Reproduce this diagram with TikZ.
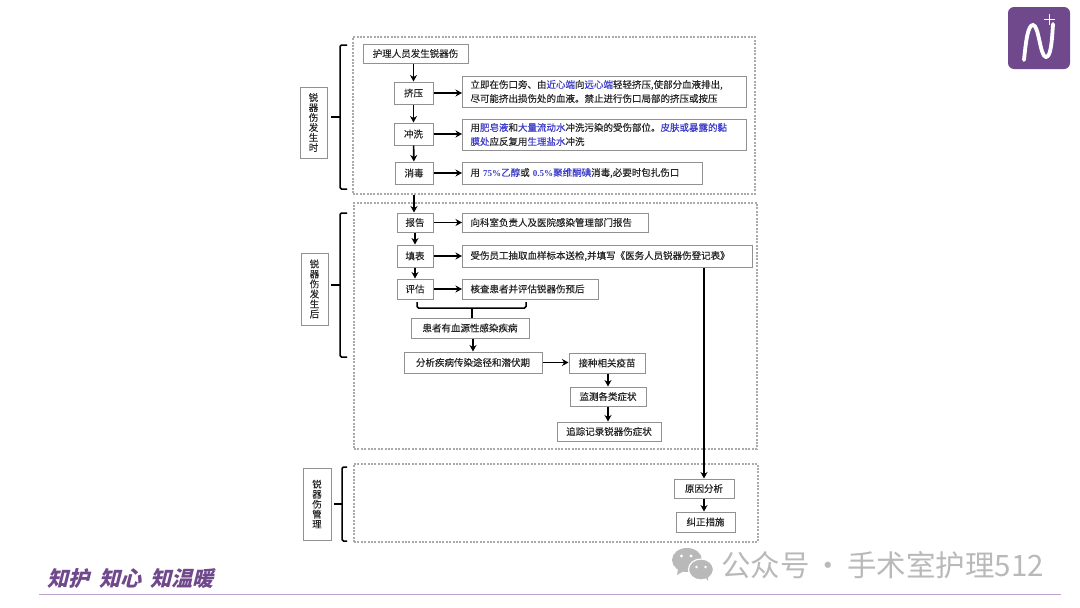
\documentclass[tikz,border=0pt]{standalone}
\usepackage{fontspec}
\setmainfont[FakeBold=0.3]{Noto Sans CJK SC}
\newfontfamily\footfont[BoldFeatures={FakeSlant=0.25}]{Noto Sans CJK SC}
\newfontfamily\markfont{Noto Sans CJK SC}
\newfontfamily\numfont[Scale=0.95]{Liberation Serif}
\usetikzlibrary{arrows,arrows.meta}
\usetikzlibrary{calc}
\definecolor{boxgray}{RGB}{145,145,145}
\definecolor{framegray}{RGB}{170,170,170}
\definecolor{keyblue}{RGB}{60,60,200}
\definecolor{logopurple}{RGB}{112,72,140}
\definecolor{lineviolet}{RGB}{190,165,205}
\definecolor{markgray}{RGB}{185,185,185}
\tikzset{
    stepbox/.style={draw=boxgray, line width=1pt, inner sep=0pt, align=center, text=black!85, font=\fontsize{9.5}{10}\selectfont},
    notebox/.style={draw=boxgray, line width=1pt, inner xsep=8pt, inner ysep=0pt, align=left, anchor=west, text=black!85, font=\fontsize{9.5}{14}\selectfont},
    framebox/.style={draw=framegray, line width=2.6pt, dash pattern=on 2pt off 1.4pt},
    flow/.style={black, line width=1.6pt, -{Stealth[length=6.5pt,width=7pt]}},
    bracket/.style={black, line width=1.5pt, rounded corners=1.5pt},
}
\newcommand{\key}[1]{\textcolor{keyblue}{#1}}

\begin{document}
\begin{tikzpicture}[x=1pt,y=-1pt]

    \useasboundingbox (0,0) rectangle (1080,608);

    % dotted frames
    \node[framebox, minimum width=402, minimum height=157] (frameA) at (554,115.5) {};
    \node[framebox, minimum width=403, minimum height=246] (frameB) at (555.5,326) {};
    \node[framebox, minimum width=404, minimum height=78] (frameC) at (556,503) {};

    % side labels
    \node[stepbox, minimum width=27, minimum height=71] (labelA) at (313.5,122.5) {锐\\器\\伤\\发\\生\\时};
    \node[stepbox, minimum width=27, minimum height=72] (labelB) at (314.5,289) {锐\\器\\伤\\发\\生\\后};
    \node[stepbox, minimum width=28, minimum height=72] (labelC) at (317,504) {锐\\器\\伤\\管\\理};

    \draw[bracket] (347,45) -- (340,45) -- (340,189) -- (347,189);
    \draw[bracket] (331,117) -- (340,117);
    \draw[bracket] (347,213) -- (340,213) -- (340,357) -- (347,357);
    \draw[bracket] (331,285) -- (340,285);
    \draw[bracket] (347,467) -- (342,467) -- (342,541) -- (347,541);
    \draw[bracket] (334,504) -- (342,504);

    % first frame
    \node[stepbox, minimum width=105, minimum height=19] (start) at (415.5,53.5) {护理人员发生锐器伤};
    \node[stepbox, minimum width=39, minimum height=22] (jiya) at (413.5,93) {挤压};
    \node[stepbox, minimum width=39, minimum height=22] (chongxi) at (413.5,134) {冲洗};
    \node[stepbox, minimum width=38, minimum height=22] (xiaodu) at (414,173) {消毒};
    \node[notebox, text width=268, minimum height=31] (jiyanote) at (462,91.5) {立即在伤口旁、由\key{近心端}向\key{远心端}轻轻挤压,使部分血液排出,\\尽可能挤出损伤处的血液。禁止进行伤口局部的挤压或按压};
    \node[notebox, text width=268, minimum height=31] (chongxinote) at (462,134.5) {用\key{肥皂液}和\key{大量流动水}冲洗污染的受伤部位。\key{皮肤或暴露的黏}\\\key{膜处}应反复用\key{生理盐水}冲洗};
    \node[notebox, text width=224, minimum height=22] (xiaodunote) at (462,173) {用 \key{{\numfont\bfseries 75\%}乙醇}或 \key{{\numfont\bfseries 0.5\%}聚维酮碘}消毒,必要时包扎伤口};

    % second frame
    \node[stepbox, minimum width=36, minimum height=19] (baogao) at (415,222.5) {报告};
    \node[stepbox, minimum width=36, minimum height=22] (tianbiao) at (415,256) {填表};
    \node[stepbox, minimum width=36, minimum height=20] (pinggu) at (415,289) {评估};
    \node[notebox, text width=170, minimum height=19] (baogaonote) at (462,222.5) {向科室负责人及医院感染管理部门报告};
    \node[notebox, text width=274, minimum height=22] (tianbiaonote) at (462,256) {受伤员工抽取血样标本送检,并填写《医务人员锐器伤登记表》};
    \node[notebox, text width=120, minimum height=20] (pinggunote) at (462,289) {核查患者并评估锐器伤预后};
    \node[stepbox, minimum width=118, minimum height=20] (huanzhe) at (470,328) {患者有血源性感染疾病};
    \node[stepbox, minimum width=138, minimum height=21] (fenxi) at (473,362.5) {分析疾病传染途径和潜伏期};
    \node[stepbox, minimum width=76, minimum height=20] (jiezhong) at (607,363) {接种相关疫苗};
    \node[stepbox, minimum width=76, minimum height=19] (jiance) at (608,396.5) {监测各类症状};
    \node[stepbox, minimum width=104, minimum height=19] (zhuizong) at (609,431.5) {追踪记录锐器伤症状};

    % third frame
    \node[stepbox, minimum width=60, minimum height=19] (yuanyin) at (704,488.5) {原因分析};
    \node[stepbox, minimum width=59, minimum height=20] (jiuzheng) at (705.5,522) {纠正措施};

    % arrows
    \draw[flow] (start.south -| jiya) -- (jiya.north);
    \draw[flow] (jiya) -- (chongxi);
    \draw[flow] (chongxi) -- (xiaodu);
    \draw[flow] (jiya.east) -- (jiya.east -| jiyanote.west);
    \draw[flow] (chongxi.east) -- (chongxi.east -| chongxinote.west);
    \draw[flow] (xiaodu.east) -- (xiaodunote.west);
    \draw[flow] (frameA.south -| xiaodu) -- (baogao.north -| xiaodu);
    \draw[flow] (baogao) -- (tianbiao);
    \draw[flow] (tianbiao) -- (pinggu);
    \draw[flow] (baogao.east) -- (baogaonote.west);
    \draw[flow] (tianbiao.east) -- (tianbiaonote.west);
    \draw[flow] (pinggu.east) -- (pinggunote.west);

    \coordinate (bracketL) at (417,302);
    \coordinate (bracketR) at (526,302);
    \coordinate (bracketM) at (472,308);
    \draw[bracket] (bracketL) |- (bracketM) -| (bracketR);
    \draw[bracket] (bracketM) -- (bracketM |- huanzhe.north);

    \draw[flow] (huanzhe.south -| fenxi) -- (fenxi.north);
    \draw[flow] (fenxi.east) -- (fenxi.east -| jiezhong.west);
    \draw[flow] (jiezhong.south -| jiance) -- (jiance.north);
    \draw[flow] (jiance.south) -- (jiance.south |- zhuizong.north);
    \draw[flow] (tianbiaonote.south -| yuanyin) -- (yuanyin.north);
    \draw[flow] (yuanyin.south) -- (yuanyin.south |- jiuzheng.north);

    % logo
    \fill[logopurple, rounded corners=6pt] (1008,7) rectangle (1070,69);
    \draw[white, line width=3.8pt, line cap=round] (1024,60) .. controls (1026,40) and (1028,25) .. (1033,25) .. controls (1039,25) and (1040,57) .. (1046,57) .. controls (1051,57) and (1052,40) .. (1053,24);
    \draw[white, line width=1.3pt] (1044,19.5) -- (1055,19.5) (1049.5,14) -- (1049.5,25);

    % footer
    \node[anchor=west, text=logopurple, font=\footfont\bfseries\fontsize{21}{21}\selectfont] (slogan) at (44,579) {知护~~知心~~知温暖};
    \draw[lineviolet, line width=0.8pt] (39,594) -- (1061,594);

    % watermark
    \fill[markgray] (687,560) ellipse (15 and 12);
    \fill[markgray] (678,569) -- (677,575) -- (684,571) -- cycle;
    \fill[markgray, draw=white, line width=1.2pt] (701,569.5) ellipse (12.5 and 10.5);
    \fill[markgray] (706,578) -- (708,581) -- (708,576) -- cycle;
    \fill[white] (681.5,556) circle (1.7) (691,556) circle (1.7) (696.5,567) circle (1.4) (705.5,567) circle (1.4);
    \node[anchor=west, inner sep=0pt, text=markgray, font=\markfont\fontsize{29.5}{30}\selectfont] (mark) at (721,565) {公众号\hspace{-2.5pt} · \hspace{-2.5pt}手术室护理512};

\end{tikzpicture}
\end{document}
